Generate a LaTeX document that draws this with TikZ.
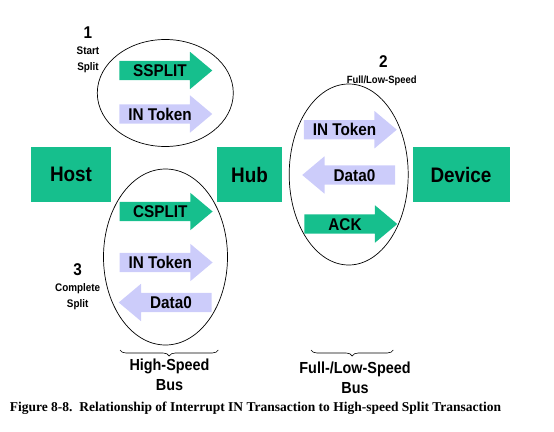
\documentclass[tikz,border=0pt]{standalone}
\usepackage{fontspec}
\usepackage{tikz}
\usetikzlibrary{shapes.arrows,shapes.geometric,decorations.pathreplacing}
\newfontfamily\usbsans{Liberation Sans}[FakeStretch=0.9]
\newfontfamily\capserif{Liberation Serif}
\definecolor{ugreen}{RGB}{22,191,141}
\definecolor{ulav}{RGB}{204,204,250}
\tikzset{
  dev/.style={fill=ugreen,minimum height=55pt,inner sep=0pt,font=\usbsans\bfseries\fontsize{21}{24}\selectfont},
  pkt/.style={single arrow,single arrow tip angle=80,single arrow head extend=9pt,minimum height=93pt,
    inner xsep=2pt,inner ysep=3.5pt,text height=12pt,text depth=0pt,font=\usbsans\bfseries\fontsize{17}{18}\selectfont},
  gpkt/.style={pkt,fill=ugreen},
  lpkt/.style={pkt,fill=ulav},
  back/.style={shape border rotate=180},
  grp/.style={draw,ellipse,line width=0.7pt,inner sep=0pt},
  step num/.style={font=\usbsans\bfseries\fontsize{17}{18}\selectfont},
  step txt/.style={font=\usbsans\bfseries\fontsize{11}{16}\selectfont,align=center},
  bus/.style={font=\usbsans\bfseries\fontsize{16}{20}\selectfont,align=center},
  brc/.style={decorate,decoration={brace,mirror,amplitude=6pt},line width=0.6pt},
}
\begin{document}
\begin{tikzpicture}[x=1pt,y=-1pt]
  \useasboundingbox (0,0) rectangle (554,431);
  % devices
  \node[dev,minimum width=80pt] (host) at (71,174.5) {Host};
  \node[dev,minimum width=65pt] (hub) at (249.5,174.5) {Hub};
  \node[dev,minimum width=97pt] (device) at (461,174.5) {Device};
  % groups of packets
  \node[grp,minimum width=136pt,minimum height=107pt] (ss) at (165.3,93) {};
  \node[grp,minimum width=124pt,minimum height=176pt] (cs) at (165.5,257) {};
  \node[grp,minimum width=119pt,minimum height=181pt] (fl) at (348.7,174.5) {};
  % start split
  \node[gpkt] (ssplit) at (160,70.5) {SSPLIT};
  \node[lpkt] (intok1) at (160,114) {IN Token};
  % complete split
  \node[gpkt] (csplit) at (160.3,211.5) {CSPLIT};
  \node[lpkt] (intok3) at (160.3,262.5) {IN Token};
  \node[lpkt,back] (data3) at (171,302.5) {Data0};
  % full/low-speed
  \node[lpkt] (intok2) at (344.5,129.7) {IN Token};
  \node[lpkt,back] (data2) at (354.5,175) {Data0};
  \node[gpkt] (ack) at (345,224) {ACK};
  % step labels
  \node[step num] (n1) at (88,33) {1};
  \node[step txt] (t1) at (88,60) {Start\\Split};
  \node[step num] (n2) at (383.3,61.7) {2};
  \node[step txt,font=\usbsans\bfseries\fontsize{10.5}{12}\selectfont] (t2) at (381.7,80.7) {Full/Low-Speed};
  \node[step num] (n3) at (77.7,270) {3};
  \node[step txt] (t3) at (77.7,296.3) {Complete\\Split};
  % buses
  \draw[brc] (120,350) -- (218.3,350);
  \node[bus] (hsbus) at (169.5,375) {High-Speed\\Bus};
  \draw[brc] (311,350) -- (393.3,350);
  \node[bus] (flbus) at (355,378) {Full-/Low-Speed\\Bus};
  \node[font=\capserif\bfseries\fontsize{13.5}{16}\selectfont] (cap) at (255.5,408.3)
    {Figure 8-8.\ \ Relationship of Interrupt IN Transaction to High-speed Split Transaction};
\end{tikzpicture}
\end{document}
